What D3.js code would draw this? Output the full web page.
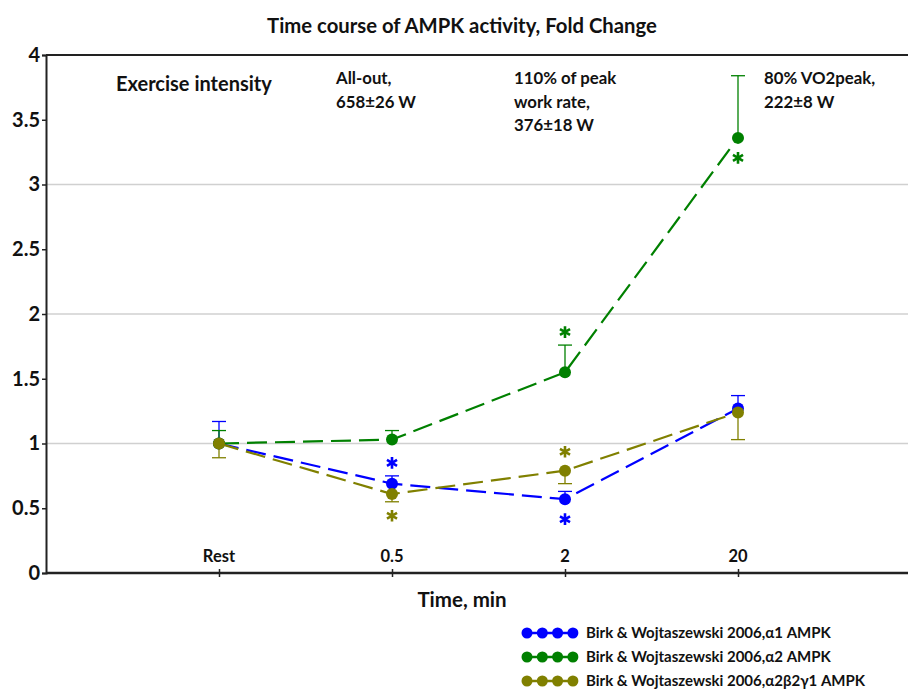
<!DOCTYPE html>
<html>
<head>
<meta charset="utf-8">
<script src="https://cdn.jsdelivr.net/npm/d3@7"></script>
<style>
  body { margin: 0; background: #fff; }
  text { font-family: Lato, "Open Sans", sans-serif; font-weight: bold; fill: #111; }
</style>
</head>
<body>
<div id="chart"></div>
<script>
// categories on the x axis
var times = ["Rest", "0.5", "2", "20"];

// mean fold change per series
var alpha1 = [1.00, 0.69, 0.57, 1.27];
var alpha2 = [1.00, 1.03, 1.55, 3.36];
var alpha2b2g1 = [1.00, 0.61, 0.79, 1.24];

// error bars: end value of the bar (drawn up for alpha1/alpha2, down for alpha2b2g1)
var alpha1Err = [1.17, 0.75, 0.63, 1.37];
var alpha2Err = [1.10, 1.10, 1.76, 3.84];
var alpha2b2g1Err = [0.89, 0.55, 0.69, 1.03];

// significance stars: "above" / "below" / null
var alpha1Star = [null, "above", "below", null];
var alpha2Star = [null, null, "above", "below"];
var alpha2b2g1Star = [null, "below", "above", null];

var yTicks = [0, 0.5, 1, 1.5, 2, 2.5, 3, 3.5, 4];
var gridValues = [1, 2, 3];

var intensityLabels = [
  { time: "Rest", lines: ["Exercise intensity"] },
  { time: "0.5", lines: ["All-out,", "658±26 W"] },
  { time: "2", lines: ["110% of peak", "work rate,", "376±18 W"] },
  { time: "20", lines: ["80% VO2peak,", "222±8 W"] }
];

var series = [
  { name: "Birk & Wojtaszewski 2006,α1 AMPK", color: "#0000ff", values: alpha1, err: alpha1Err, stars: alpha1Star },
  { name: "Birk & Wojtaszewski 2006,α2 AMPK", color: "#008000", values: alpha2, err: alpha2Err, stars: alpha2Star },
  { name: "Birk & Wojtaszewski 2006,α2β2γ1 AMPK", color: "#808000", values: alpha2b2g1, err: alpha2b2g1Err, stars: alpha2b2g1Star }
];

var width = 908, height = 691;
var plotLeft = 46, plotTop = 55, plotBottom = 573;

var svg = d3.select("#chart").append("svg")
  .attr("width", width)
  .attr("height", height);

// point scale with an empty slot on each side
var x = d3.scalePoint()
  .domain(["", ...times, " "])
  .range([plotLeft, plotLeft + 173 * 5]);

var y = d3.scaleLinear()
  .domain([0, 4])
  .range([plotBottom, plotTop]);

// gridlines
svg.selectAll(".grid")
  .data(gridValues)
  .enter().append("line")
  .attr("x1", plotLeft)
  .attr("x2", width)
  .attr("y1", function(d) { return y(d); })
  .attr("y2", function(d) { return y(d); })
  .style("stroke", "#d0d0d0")
  .style("stroke-width", 1.5);

// top border
svg.append("line")
  .attr("x1", plotLeft).attr("x2", width)
  .attr("y1", plotTop).attr("y2", plotTop)
  .style("stroke", "#222").style("stroke-width", 2);

// y axis
var yAxis = svg.append("g")
  .attr("transform", "translate(" + plotLeft + ",0)")
  .call(d3.axisLeft(y).tickValues(yTicks).tickSize(4).tickFormat(d3.format("")));
yAxis.select(".domain").style("stroke", "#222").style("stroke-width", 2);
yAxis.selectAll(".tick line").style("stroke", "#222").style("stroke-width", 1.5);
yAxis.selectAll(".tick text")
  .attr("x", -6)
  .style("font-size", "20px")
  .style("font-family", "Lato, sans-serif")
  .style("font-weight", "bold")
  .style("fill", "#111");

// x axis
var xAxis = svg.append("g")
  .attr("transform", "translate(0," + plotBottom + ")")
  .call(d3.axisBottom(x).tickValues(times).tickSize(5).tickFormat(""));
xAxis.select(".domain").attr("d", "M" + plotLeft + ",0H" + width).style("stroke", "#222").style("stroke-width", 2.5);
xAxis.selectAll(".tick line").attr("y1", -4).attr("y2", 4).style("stroke", "#222").style("stroke-width", 1.5);

// category labels sit inside the plot
svg.selectAll(".cat")
  .data(times)
  .enter().append("text")
  .attr("x", function(d) { return x(d); })
  .attr("y", 562)
  .attr("text-anchor", "middle")
  .style("font-size", "16.5px")
  .text(function(d) { return d; });

// title and axis title
svg.append("text")
  .attr("x", 462).attr("y", 33)
  .attr("text-anchor", "middle")
  .style("font-size", "20.3px")
  .text("Time course of AMPK activity, Fold Change");

svg.append("text")
  .attr("x", 462).attr("y", 607)
  .attr("text-anchor", "middle")
  .style("font-size", "20.5px")
  .text("Time, min");

// intensity annotations
var annX = [116, 336, 514, 764];
var ann = svg.selectAll(".ann")
  .data(intensityLabels)
  .enter().append("text")
  .attr("x", function(d, i) { return annX[i]; })
  .attr("y", function(d, i) { return i == 0 ? 91 : 84; })
  .style("font-size", function(d, i) { return i == 0 ? "20px" : "16.8px"; });
ann.selectAll("tspan")
  .data(function(d) { return d.lines; })
  .enter().append("tspan")
  .attr("x", function() { return d3.select(this.parentNode).attr("x"); })
  .attr("dy", function(d, i) { return i == 0 ? 0 : 23.5; })
  .text(function(d) { return d; });

var line = d3.line()
  .x(function(d, i) { return x(times[i]); })
  .y(function(d) { return y(d); });

var star = d3.symbol().type(d3.symbolAsterisk).size(95);

// draw each series
series.forEach(function(s) {
  var g = svg.append("g");

  g.append("path")
    .datum(s.values)
    .attr("d", line)
    .style("fill", "none")
    .style("stroke", s.color)
    .style("stroke-width", 2.2)
    .style("stroke-dasharray", "20,8");

  var eb = g.selectAll(".err")
    .data(s.values)
    .enter().append("g");
  eb.append("line")
    .attr("x1", function(d, i) { return x(times[i]); })
    .attr("x2", function(d, i) { return x(times[i]); })
    .attr("y1", function(d) { return y(d); })
    .attr("y2", function(d, i) { return y(s.err[i]); })
    .style("stroke", s.color).style("stroke-width", 1.3);
  eb.append("line")
    .attr("x1", function(d, i) { return x(times[i]) - 7; })
    .attr("x2", function(d, i) { return x(times[i]) + 7; })
    .attr("y1", function(d, i) { return y(s.err[i]); })
    .attr("y2", function(d, i) { return y(s.err[i]); })
    .style("stroke", s.color).style("stroke-width", 1.3);

  g.selectAll(".dot")
    .data(s.values)
    .enter().append("circle")
    .attr("cx", function(d, i) { return x(times[i]); })
    .attr("cy", function(d) { return y(d); })
    .attr("r", 6)
    .style("fill", s.color);

  // asterisks placed just clear of the marker / error bar
  g.selectAll(".star")
    .data(s.values.map(function(v, i) { return { v: v, i: i }; }))
    .enter().filter(function(d) { return s.stars[d.i]; })
    .append("path")
    .attr("d", star)
    .attr("transform", function(d) {
      var cy;
      if (s.stars[d.i] == "above") cy = Math.min(y(d.v) - 6, y(s.err[d.i])) - 13;
      else cy = Math.max(y(d.v) + 6, y(s.err[d.i])) + 14;
      return "translate(" + x(times[d.i]) + "," + cy + ")";
    })
    .style("fill", "none")
    .style("stroke", s.color)
    .style("stroke-width", 2.6);
});

// legend
var legend = svg.selectAll(".legend")
  .data(series)
  .enter().append("g")
  .attr("transform", function(d, i) { return "translate(522," + (633 + i * 24) + ")"; });
legend.append("line")
  .attr("x1", 0).attr("x2", 56)
  .style("stroke", function(d) { return d.color; })
  .style("stroke-width", 2.5);
legend.selectAll("circle")
  .data(function(d) { return [0, 1, 2, 3].map(function(k) { return { k: k, color: d.color }; }); })
  .enter().append("circle")
  .attr("cx", function(d) { return 5 + d.k * 15.3; })
  .attr("r", 5.5)
  .style("fill", function(d) { return d.color; });
legend.append("text")
  .attr("x", 64)
  .attr("y", 5)
  .style("font-size", "15px")
  .text(function(d) { return d.name; });
</script>
</body>
</html>
